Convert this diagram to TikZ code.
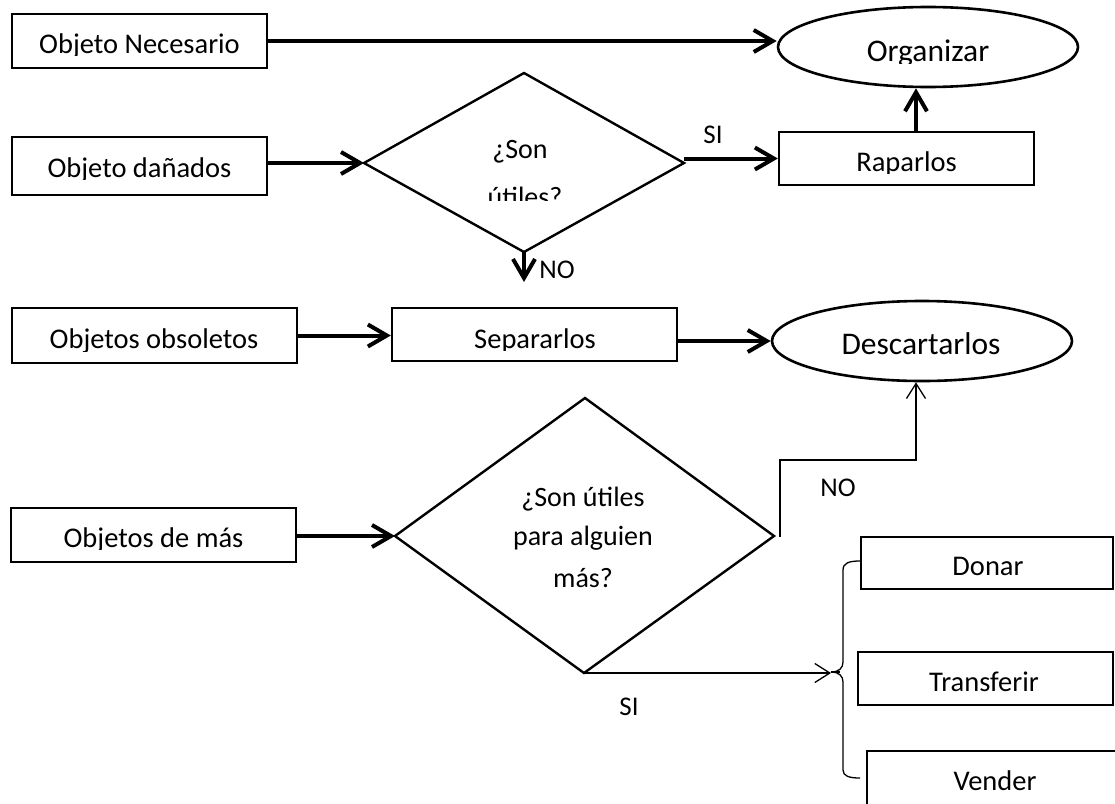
\documentclass[tikz,border=0pt]{standalone}
\usepackage{fontspec}
\setmainfont{Carlito}
\usetikzlibrary{arrows.meta,shapes.geometric}
\begin{document}
\begin{tikzpicture}[x=1pt,y=-1pt,
  box/.style={draw, rectangle, line width=2.3pt, inner sep=0pt},
  oval/.style={draw, ellipse, line width=2.6pt, inner sep=0pt, minimum width=300pt, minimum height=80pt},
  dia/.style={draw, line width=2.4pt, line join=miter},
  txt/.style={inner sep=0pt, anchor=base, font=\fontsize{28.5}{34}\selectfont},
  big/.style={inner sep=0pt, anchor=base, font=\fontsize{31.5}{36}\selectfont},
  qtxt/.style={inner sep=0pt, anchor=base, font=\fontsize{28}{33}\selectfont},
  lbl/.style={inner sep=0pt, anchor=base, font=\fontsize{27}{32}\selectfont},
  thk/.style={line width=4pt, -{Straight Barb[length=19pt,width=22pt]}},
  thn/.style={line width=1.3pt, -{Straight Barb[length=15pt,width=19pt]}},
  brace/.style={line width=1.3pt}]
\clip (0,0) rectangle (1115,803);
\fill[white] (0,0) rectangle (1115,803);

% boxes
\node[box, minimum width=255pt, minimum height=54pt] (nec) at (139.5,41) {};
\node[box, minimum width=255pt, minimum height=58pt] (dan) at (139.5,166) {};
\node[box, minimum width=285pt, minimum height=55pt] (obs) at (154.5,335.5) {};
\node[box, minimum width=285pt, minimum height=54pt] (mas) at (153.5,535) {};
\node[box, minimum width=255pt, minimum height=53pt] (rap) at (906.5,158.5) {};
\node[box, minimum width=285pt, minimum height=53pt] (sep) at (534.5,334.5) {};
\node[box, minimum width=252pt, minimum height=52pt] (don) at (987,563) {};
\node[box, minimum width=255pt, minimum height=53pt] (tra) at (985.5,678.5) {};
\node[box, minimum width=260pt, minimum height=70pt] (ven) at (997,786) {};
\node[oval] (org) at (928,47) {};
\node[oval] (des) at (922,341) {};

% diamonds
\coordinate (d1l) at (364,163);
\coordinate (d1t) at (524,73);
\coordinate (d1r) at (684,163);
\coordinate (d1b) at (524,252);
\draw[dia] (d1l) -- (d1t) -- (d1r) -- (d1b) -- cycle;
\coordinate (d2l) at (395,536);
\coordinate (d2t) at (585,398);
\coordinate (d2r) at (774,536);
\coordinate (d2b) at (584,673);
\draw[dia] (d2l) -- (d2t) -- (d2r) -- (d2b) -- cycle;

% texts (some clipped at the baseline, as in the reference)
\begin{scope}\clip (0,0) rectangle (1115,55);
  \node[txt] (tnec) at (139.5,53) {Objeto Necesario};
\end{scope}
\begin{scope}\clip (0,100) rectangle (1115,179);
  \node[txt] (tdan) at (139.5,177) {Objeto dañados};
\end{scope}
\begin{scope}\clip (0,300) rectangle (1115,351);
  \node[txt] (tobs) at (154,348) {Objetos obsoletos};
\end{scope}
\begin{scope}\clip (0,500) rectangle (1115,549);
  \node[txt] (tmas) at (153.5,547) {Objetos de más};
\end{scope}
\begin{scope}\clip (700,100) rectangle (1115,173);
  \node[txt] (trap) at (906.5,171) {Raparlos};
\end{scope}
\begin{scope}\clip (380,300) rectangle (700,350);
  \node[txt] (tsep) at (535,348) {Separarlos};
\end{scope}
\begin{scope}\clip (700,0) rectangle (1115,63);
  \node[big] (torg) at (928,61) {Organizar};
\end{scope}
\node[big] (tdes) at (921,354) {Descartarlos};
\node[txt] (tdon) at (988,575) {Donar};
\node[txt] (ttra) at (984,691) {Transferir};
\node[txt] (tven) at (995,790) {Vender};

\begin{scope}\clip (364,60) rectangle (684,200);
  \node[qtxt] (q1a) at (520,158) {¿Son};
  \node[qtxt] (q1b) at (525,206) {útiles?};
\end{scope}
\node[qtxt] (q2a) at (583,506) {¿Son útiles};
\node[qtxt] (q2b) at (583,545) {para alguien};
\node[qtxt] (q2c) at (583,587) {más?};

% labels
\node[lbl] (lsi1) at (713,143) {SI};
\node[lbl] (lno1) at (557,278) {NO};
\node[lbl] (lno2) at (838,496) {NO};
\node[lbl] (lsi2) at (629,715) {SI};

% connectors
\draw[thk] (nec.east) -- (nec.east -| org.west);
\draw[thk] (dan.east |- d1l) -- (d1l);
\draw[thk] (rap.west -| d1r) -- (rap.west);
\draw[thk] ([xshift=9.5pt]rap.north) -- ([xshift=9.5pt]rap.north |- org.south);
\coordinate (no1) at (524,282);
\draw[thk] (d1b) -- (no1);
\draw[thk] (obs.east) -- (obs.east -| sep.west);
\draw[thk] (sep.east |- des.west) -- (des.west);
\draw[thk] (mas.east |- d2l) -- (d2l);
\coordinate (d2n) at (780,537);
\coordinate (nobend) at (850,460);
\draw[thn] (d2n) |- (nobend) -| ([xshift=-6pt]des.south);
\coordinate (brtip) at (831,672);
\draw[thn] (d2b) -- (d2b -| brtip);

% brace
\draw[brace] (860,561) .. controls (849,561) and (843,563) .. (843,570) -- (843,662)
  .. controls (843,668) and (839,672) .. (brtip)
  .. controls (839,672) and (843,676) .. (843,682) -- (843,770)
  .. controls (843,776) and (849,778) .. (860,778);
\draw[line width=2.4pt] (brtip) -- (840,672);
\end{tikzpicture}
\end{document}
